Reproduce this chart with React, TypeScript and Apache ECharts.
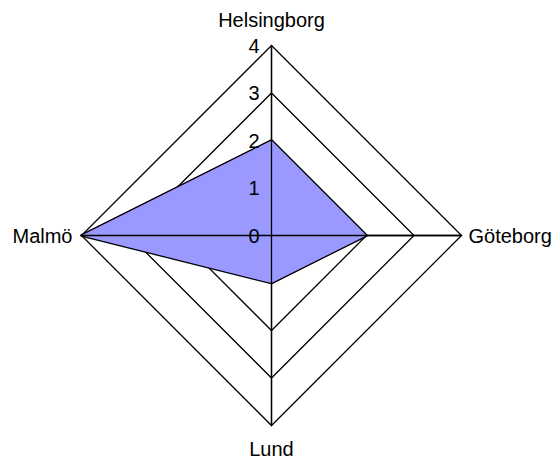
import React, { useEffect, useRef } from "react";
import * as echarts from "echarts";

const indicatorNames = ["Helsingborg", "Malmö", "Lund", "Göteborg"];
const seriesValues = [2, 4, 1, 2];
const axisMax = 4;
const nameGaps = [16, 9, 13, 7];

const FONT = "Liberation Sans, Arial, sans-serif";
const LW = 1.3;

export default function App() {
  const ref = useRef<HTMLDivElement>(null);
  useEffect(() => {
    document.body.style.margin = "0";
    const chart = echarts.init(ref.current!, null, { renderer: "svg" });
    const baseIndicators = indicatorNames.map((name, i) => ({
      name,
      min: 0,
      max: axisMax,
      nameGap: nameGaps[i],
    }));
    const overlayIndicators = indicatorNames.map((name, i) => ({
      name,
      min: 0,
      max: axisMax,
      axisLabel: { show: i === 0 },
    }));
    chart.setOption({
      animation: false,
      backgroundColor: "#ffffff",
      radar: [
        {
          center: [271.5, 235.5],
          radius: 190,
          startAngle: 90,
          splitNumber: 4,
          shape: "polygon",
          indicator: baseIndicators,
          axisName: { color: "#000", fontSize: 20, fontFamily: FONT },
          axisLine: { lineStyle: { color: "#000", width: LW } },
          splitLine: { lineStyle: { color: "#000", width: LW } },
          splitArea: { show: false },
          axisTick: { show: false },
          axisLabel: { show: false },
          z: 0,
        },
        {
          center: [271.5, 235.5],
          radius: 190,
          startAngle: 90,
          splitNumber: 4,
          shape: "polygon",
          indicator: overlayIndicators,
          axisName: { show: false },
          axisLine: { lineStyle: { color: "#000", width: LW } },
          splitLine: { show: false },
          splitArea: { show: false },
          axisTick: { show: false },
          axisLabel: {
            show: false,
            color: "#000",
            fontSize: 20,
            fontFamily: FONT,
            margin: 12,
          },
          z: 5,
        },
      ],
      series: [
        {
          type: "radar",
          radarIndex: 0,
          symbol: "none",
          lineStyle: { color: "#000", width: 2.6, opacity: 1 },
          areaStyle: { color: "#9999FF", opacity: 1 },
          itemStyle: { color: "#000" },
          data: [{ value: seriesValues, name: "Series" }],
          z: 2,
        },
      ],
    });
    return () => chart.dispose();
  }, []);
  return <div ref={ref} style={{ width: 559, height: 459 }} />;
}
